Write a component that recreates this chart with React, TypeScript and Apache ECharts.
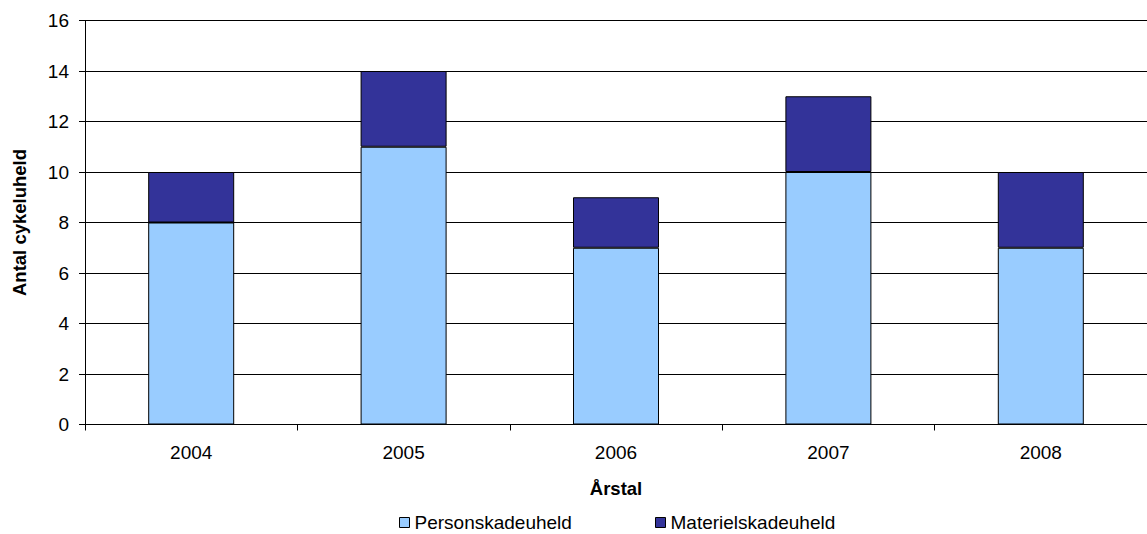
import React, { useEffect, useRef } from "react";
import * as echarts from "echarts";

const years = ["2004", "2005", "2006", "2007", "2008"];
const personskadeuheld = [8, 11, 7, 10, 7];
const materielskadeuheld = [2, 3, 2, 3, 3];

const FONT = "Liberation Sans, Arial, sans-serif";
const FS = 19;
const FS_TITLE = 18.5;

const legendItem = (name: string, left: number) => ({
  left,
  top: 513,
  padding: 0,
  itemWidth: 10,
  itemHeight: 10,
  icon: "rect",
  textStyle: { fontFamily: FONT, fontSize: FS, lineHeight: 19, color: "#000" },
  data: [{ name, itemStyle: { borderColor: "#000", borderWidth: 1 } }],
});

export default function App() {
  const ref = useRef<HTMLDivElement>(null);

  useEffect(() => {
    document.body.style.margin = "0";
    if (!ref.current) return;
    const chart = echarts.init(ref.current, null, { renderer: "svg" });
    chart.setOption({
      animation: false,
      textStyle: { fontFamily: FONT, color: "#000" },
      grid: { left: 85, top: 20.5, width: 1071, height: 404, containLabel: false },
      legend: [legendItem("Personskadeuheld", 399), legendItem("Materielskadeuheld", 655)],
      xAxis: {
        type: "category",
        data: years,
        name: "Årstal",
        nameLocation: "middle",
        nameGap: 54,
        nameTextStyle: { fontFamily: FONT, fontSize: FS_TITLE, fontWeight: "bold", color: "#000" },
        axisLine: { lineStyle: { color: "#000", width: 1 } },
        axisTick: { show: true, length: 6, lineStyle: { color: "#000" } },
        axisLabel: { fontFamily: FONT, fontSize: FS, color: "#000", margin: 18 },
      },
      yAxis: {
        type: "value",
        min: 0,
        max: 16,
        interval: 2,
        name: "Antal cykeluheld",
        nameLocation: "middle",
        nameGap: 56,
        nameTextStyle: { fontFamily: FONT, fontSize: FS_TITLE, fontWeight: "bold", color: "#000" },
        axisLine: { show: true, lineStyle: { color: "#000", width: 1 } },
        axisTick: { show: true, length: 6, lineStyle: { color: "#000" } },
        axisLabel: { fontFamily: FONT, fontSize: FS, color: "#000", margin: 16 },
        splitLine: { show: true, lineStyle: { color: "#000", width: 1 } },
      },
      series: [
        {
          name: "Personskadeuheld",
          type: "bar",
          stack: "uheld",
          barWidth: 86,
          data: personskadeuheld,
          itemStyle: { color: "#99CCFF", borderColor: "#000", borderWidth: 1 },
        },
        {
          name: "Materielskadeuheld",
          type: "bar",
          stack: "uheld",
          barWidth: 86,
          data: materielskadeuheld,
          itemStyle: { color: "#333399", borderColor: "#000", borderWidth: 1 },
        },
      ],
    });
    return () => chart.dispose();
  }, []);

  return <div ref={ref} style={{ width: 1147, height: 534 }} />;
}
